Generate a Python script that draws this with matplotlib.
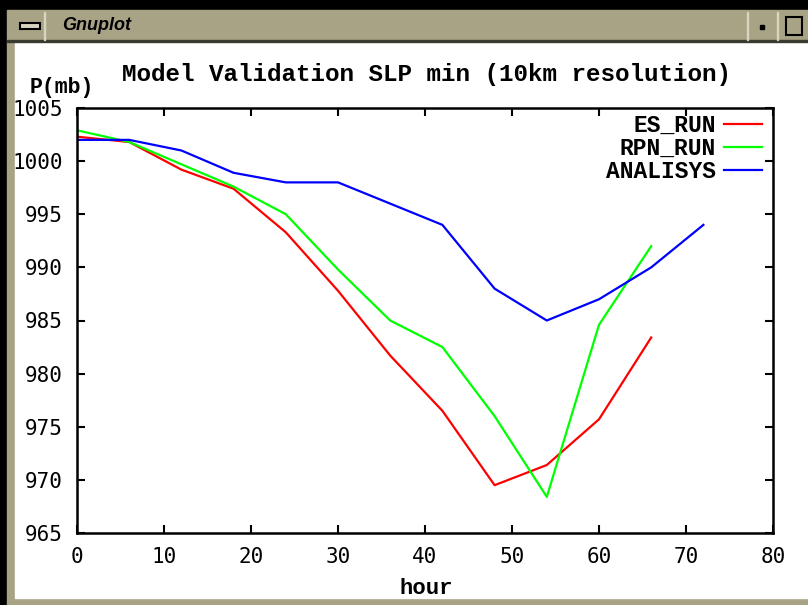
#Recreation of a gnuplot window: model validation of minimum SLP

import numpy as np
import matplotlib.pyplot as plt
from matplotlib.patches import Rectangle

#data (every 6 hours)
hours = [0, 6, 12, 18, 24, 30, 36, 42, 48, 54, 60, 66, 72]
es_run = [1002.3, 1001.8, 999.2, 997.4, 993.3, 987.8, 981.7, 976.5, 969.5, 971.4, 975.7, 983.4]
rpn_run = [1002.9, 1001.8, 999.7, 997.6, 995.0, 989.8, 985.0, 982.5, 976.0, 968.4, 984.6, 992.0]
analisys = [1002.0, 1002.0, 1001.0, 998.9, 998.0, 998.0, 996.0, 994.0, 988.0, 985.0, 987.0, 990.0, 994.0]

xticks = np.arange(0, 81, 10)
yticks = np.arange(965, 1006, 5)

fig = plt.figure(figsize=(8.08, 6.05), dpi=100)

#window decoration drawn in pixel coordinates
bg = fig.add_axes([0, 0, 1, 1])
bg.set_xlim(0, 808)
bg.set_ylim(605, 0)
bg.axis('off')
tan = '#a9a386'
bg.add_patch(Rectangle((0, 0), 808, 605, color='black'))
bg.add_patch(Rectangle((7, 10), 801, 595, color=tan))
bg.add_patch(Rectangle((15, 42), 793, 556, color='white'))
bg.add_patch(Rectangle((7, 40), 801, 2, color='#3a3a30'))
bg.add_patch(Rectangle((44, 12), 1, 28, color='#d8d4c0'))
bg.add_patch(Rectangle((20, 23), 20, 6, facecolor='#d8d4c0', edgecolor='black', linewidth=1.5))
bg.text(62, 26, 'Gnuplot', fontsize=13, style='italic', weight='bold',
        family='Liberation Sans', va='center', color='black')
bg.add_patch(Rectangle((747, 12), 1, 28, color='#d8d4c0'))
bg.add_patch(Rectangle((777, 12), 1, 28, color='#d8d4c0'))
bg.add_patch(Rectangle((760, 25), 4, 4, color='black'))
bg.add_patch(Rectangle((786, 17), 16, 18, facecolor='none', edgecolor='black', linewidth=1.5))

#the plot itself
ax = fig.add_axes([77 / 808, 1 - 533 / 605, 696 / 808, 425 / 605])
ax.plot(hours[:len(es_run)], es_run, color='#ff0000', linewidth=1.6, label='ES_RUN')
ax.plot(hours[:len(rpn_run)], rpn_run, color='#00ff00', linewidth=1.6, label='RPN_RUN')
ax.plot(hours, analisys, color='#0000ff', linewidth=1.6, label='ANALISYS')

ax.set_xlim(0, 80)
ax.set_ylim(965, 1005)
ax.set_xticks(xticks)
ax.set_yticks(yticks)
for spine in ax.spines.values():
    spine.set_linewidth(1.8)
ax.tick_params(direction='in', length=6, width=1.5, top=True, right=True,
               labelsize=15, pad=10)
for lab in ax.get_xticklabels() + ax.get_yticklabels():
    lab.set_family('DejaVu Sans Mono')

mono = {'family': 'Liberation Mono', 'weight': 'bold'}
fig.text(426 / 808, 1 - 75 / 605, 'Model Validation SLP min (10km resolution)',
         fontsize=17.5, ha='center', va='center', fontdict=mono)
fig.text(30 / 808, 1 - 87 / 605, 'P(mb)', fontsize=15.5, ha='left', va='center', fontdict=mono)
fig.text(426 / 808, 1 - 588 / 605, 'hour', fontsize=16, ha='center', va='center', fontdict=mono)

leg = ax.legend(loc='upper right', bbox_to_anchor=((762 - 77) / 696, (533 - 114) / 425),
                frameon=False, borderaxespad=0, borderpad=0,
                markerfirst=False, handlelength=1.65, handletextpad=0.35,
                labelspacing=0.0, prop={'family': 'Liberation Mono', 'weight': 'bold', 'size': 16.5})

plt.savefig('out.png', dpi=100)
